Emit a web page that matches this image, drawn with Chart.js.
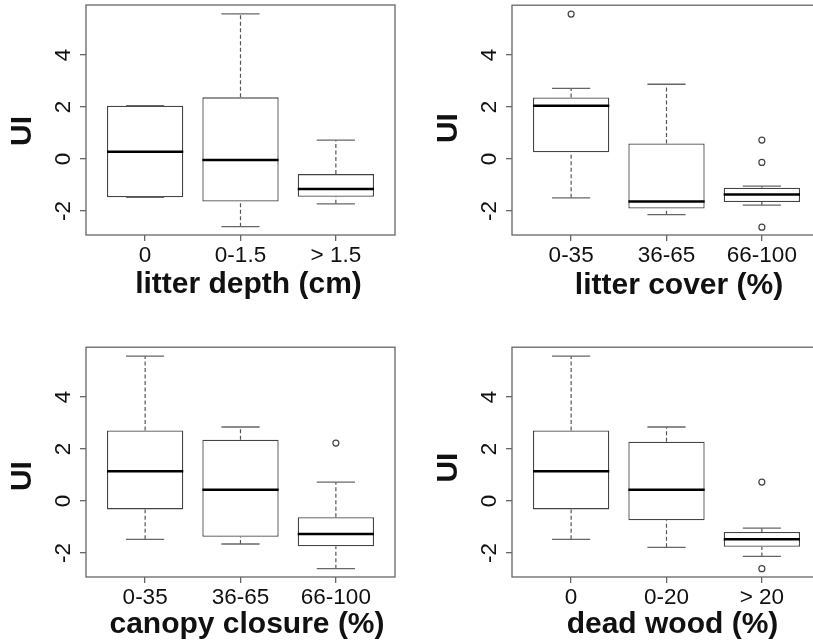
<!DOCTYPE html>
<html>
<head>
<meta charset="utf-8">
<script src="https://cdn.jsdelivr.net/npm/chart.js@4.4.1/dist/chart.umd.min.js"></script>
<style>
  body { margin: 0; width: 813px; height: 643px; overflow: hidden; background: #fff; position: relative; }
  .panel { position: absolute; width: 410px; height: 320px; }
</style>
</head>
<body>
<div class="panel" style="left:0px;top:0px"><canvas id="depth" width="410" height="320"></canvas></div>
<div class="panel" style="left:426px;top:0px"><canvas id="cover" width="410" height="320"></canvas></div>
<div class="panel" style="left:0px;top:342px"><canvas id="canopy" width="410" height="320"></canvas></div>
<div class="panel" style="left:426px;top:342px"><canvas id="wood" width="410" height="320"></canvas></div>
<script>
// boxplots of UI by habitat class

const yTicks = [-2, 0, 2, 4];
const yMin = -2.92;
const yMax = 5.92;

// litter depth
const depthLabels = ['0', '0-1.5', '> 1.5'];
const depthLo  = [-1.47, -2.60, -1.72];
const depthQ1  = [-1.47, -1.63, -1.45];
const depthMed = [0.28, -0.04, -1.15];
const depthQ3  = [2.05, 2.37, -0.58];
const depthHi  = [2.05, 5.58, 0.73];
const depthOut = [[], [], []];

// litter cover
const coverLabels = ['0-35', '36-65', '66-100'];
const coverLo  = [-1.49, -2.14, -1.77];
const coverQ1  = [0.26, -1.90, -1.65];
const coverMed = [2.05, -1.63, -1.36];
const coverQ3  = [2.37, 0.60, -1.10];
const coverHi  = [2.72, 2.88, -1.04];
const coverOut = [[5.58], [], [0.73, -0.13, -2.62]];

// canopy closure
const canopyLabels = ['0-35', '36-65', '66-100'];
const canopyLo  = [-1.47, -1.65, -2.60];
const canopyQ1  = [-0.32, -1.37, -1.74];
const canopyMed = [1.15, 0.44, -1.27];
const canopyQ3  = [2.72, 2.36, -0.62];
const canopyHi  = [5.58, 2.85, 0.73];
const canopyOut = [[], [], [2.23]];

// dead wood
const woodLabels = ['0', '0-20', '> 20'];
const woodLo  = [-1.47, -1.78, -2.13];
const woodQ1  = [-0.32, -0.74, -1.76];
const woodMed = [1.15, 0.44, -1.47];
const woodQ3  = [2.72, 2.28, -1.19];
const woodHi  = [5.58, 2.85, -1.04];
const woodOut = [[], [], [0.73, -2.60]];

const FONT = '"Liberation Sans", Arial, sans-serif';
Chart.defaults.font.family = FONT;
Chart.defaults.color = '#111';

function halfWidth(chart, w) {
    const x = chart.scales.x;
    return x.getPixelForValue(1 + w) - x.getPixelForValue(1);
}

// R style frame, rotated y tick labels and axis titles
const framePlugin = {
    id: 'rframe',
    afterDraw(chart, args, opts) {
        const ctx = chart.ctx;
        const a = chart.chartArea;
        const y = chart.scales.y;
        ctx.save();
        ctx.strokeStyle = '#666';
        ctx.lineWidth = 1.3;
        ctx.strokeRect(a.left, a.top, a.right - a.left, a.bottom - a.top);

        ctx.fillStyle = '#111';
        ctx.font = '22.5px ' + FONT;
        ctx.textAlign = 'center';
        ctx.textBaseline = 'alphabetic';
        y.ticks.forEach(t => {
            ctx.save();
            ctx.translate(a.left - 16, y.getPixelForValue(t.value));
            ctx.rotate(-Math.PI / 2);
            ctx.fillText(String(t.value), 0, 0);
            ctx.restore();
        });

        ctx.font = 'bold 30px ' + FONT;
        ctx.save();
        ctx.translate(a.left - 55.5, (a.top + a.bottom) / 2 + opts.yShift);
        ctx.rotate(-Math.PI / 2);
        ctx.fillText(opts.yTitle, 0, 0);
        ctx.restore();

        ctx.fillText(opts.xTitle, (a.left + a.right) / 2 + opts.xShift, a.bottom + opts.xBase);
        ctx.restore();
    }
};

function boxplot(id, labels, lo, q1, med, q3, hi, out, titles) {
    var whiskers = [], staples = [], outliers = [];
    for (var i = 0; i < labels.length; i++) {
        whiskers.push({x: i + 1, y: lo[i]}, {x: i + 1, y: q1[i]}, {x: i + 1, y: null});
        whiskers.push({x: i + 1, y: q3[i]}, {x: i + 1, y: hi[i]}, {x: i + 1, y: null});
        staples.push({x: i + 1, y: lo[i]}, {x: i + 1, y: hi[i]});
        out[i].forEach(v => outliers.push({x: i + 1, y: v}));
    }

    return new Chart(document.getElementById(id), {
        type: 'bar',
        data: {
            datasets: [
                {
                    type: 'scatter',
                    data: med.map((v, i) => ({x: i + 1, y: v})),
                    pointStyle: 'line',
                    pointRadius: c => halfWidth(c.chart, 0.4),
                    pointBorderWidth: 2.5,
                    pointBorderColor: '#000',
                },
                {
                    type: 'scatter',
                    data: staples,
                    pointStyle: 'line',
                    pointRadius: c => halfWidth(c.chart, 0.2),
                    pointBorderWidth: 1.3,
                    pointBorderColor: '#666',
                },
                {
                    type: 'scatter',
                    data: outliers,
                    pointStyle: 'circle',
                    pointRadius: 3,
                    pointBorderWidth: 1.2,
                    pointBorderColor: '#444',
                    pointBackgroundColor: '#fff',
                },
                {
                    type: 'line',
                    data: whiskers,
                    borderColor: '#555',
                    borderWidth: 1.2,
                    borderDash: [4, 2.5],
                    pointRadius: 0,
                    spanGaps: false,
                    fill: false,
                },
                {
                    type: 'bar',
                    data: q1.map((v, i) => ({x: i + 1, y: [v, q3[i]]})),
                    backgroundColor: '#fff',
                    borderColor: '#444',
                    borderWidth: 1.3,
                    borderSkipped: false,
                    categoryPercentage: 1,
                    barPercentage: 0.8,
                }
            ]
        },
        options: {
            responsive: false,
            animation: false,
            events: [],
            layout: {padding: {top: 5, right: 15, left: 0, bottom: 0}},
            plugins: {
                legend: {display: false},
                tooltip: {enabled: false},
                rframe: titles
            },
            scales: {
                x: {
                    type: 'linear',
                    min: 0.38,
                    max: 3.62,
                    offset: false,
                    afterBuildTicks: s => { s.ticks = labels.map((l, i) => ({value: i + 1})); },
                    afterFit: s => { s.height = 85; },
                    ticks: {
                        callback: (v, i) => labels[i],
                        font: {size: 22.5},
                        padding: 1,
                        maxRotation: 0,
                        autoSkip: false,
                    },
                    grid: {drawOnChartArea: false, drawTicks: true, tickLength: 6, lineWidth: 1.3, color: '#666', offset: false},
                    border: {display: false}
                },
                y: {
                    type: 'linear',
                    min: yMin,
                    max: yMax,
                    afterBuildTicks: s => { s.ticks = yTicks.map(v => ({value: v})); },
                    afterFit: s => { s.width = 86; },
                    ticks: {display: false},
                    grid: {drawOnChartArea: false, drawTicks: true, tickLength: 6, lineWidth: 1.3, color: '#666'},
                    border: {display: false}
                }
            }
        },
        plugins: [framePlugin]
    });
}

boxplot('depth', depthLabels, depthLo, depthQ1, depthMed, depthQ3, depthHi, depthOut,
    {xTitle: 'litter depth (cm)', yTitle: 'UI', xShift: 8, xBase: 57.7, yShift: 11});
boxplot('cover', coverLabels, coverLo, coverQ1, coverMed, coverQ3, coverHi, coverOut,
    {xTitle: 'litter cover (%)', yTitle: 'UI', xShift: 12.5, xBase: 59, yShift: 8});
boxplot('canopy', canopyLabels, canopyLo, canopyQ1, canopyMed, canopyQ3, canopyHi, canopyOut,
    {xTitle: 'canopy closure (%)', yTitle: 'UI', xShift: 6.5, xBase: 56, yShift: 14});
boxplot('wood', woodLabels, woodLo, woodQ1, woodMed, woodQ3, woodHi, woodOut,
    {xTitle: 'dead wood (%)', yTitle: 'UI', xShift: 6, xBase: 56, yShift: 5.5});
</script>
</body>
</html>
